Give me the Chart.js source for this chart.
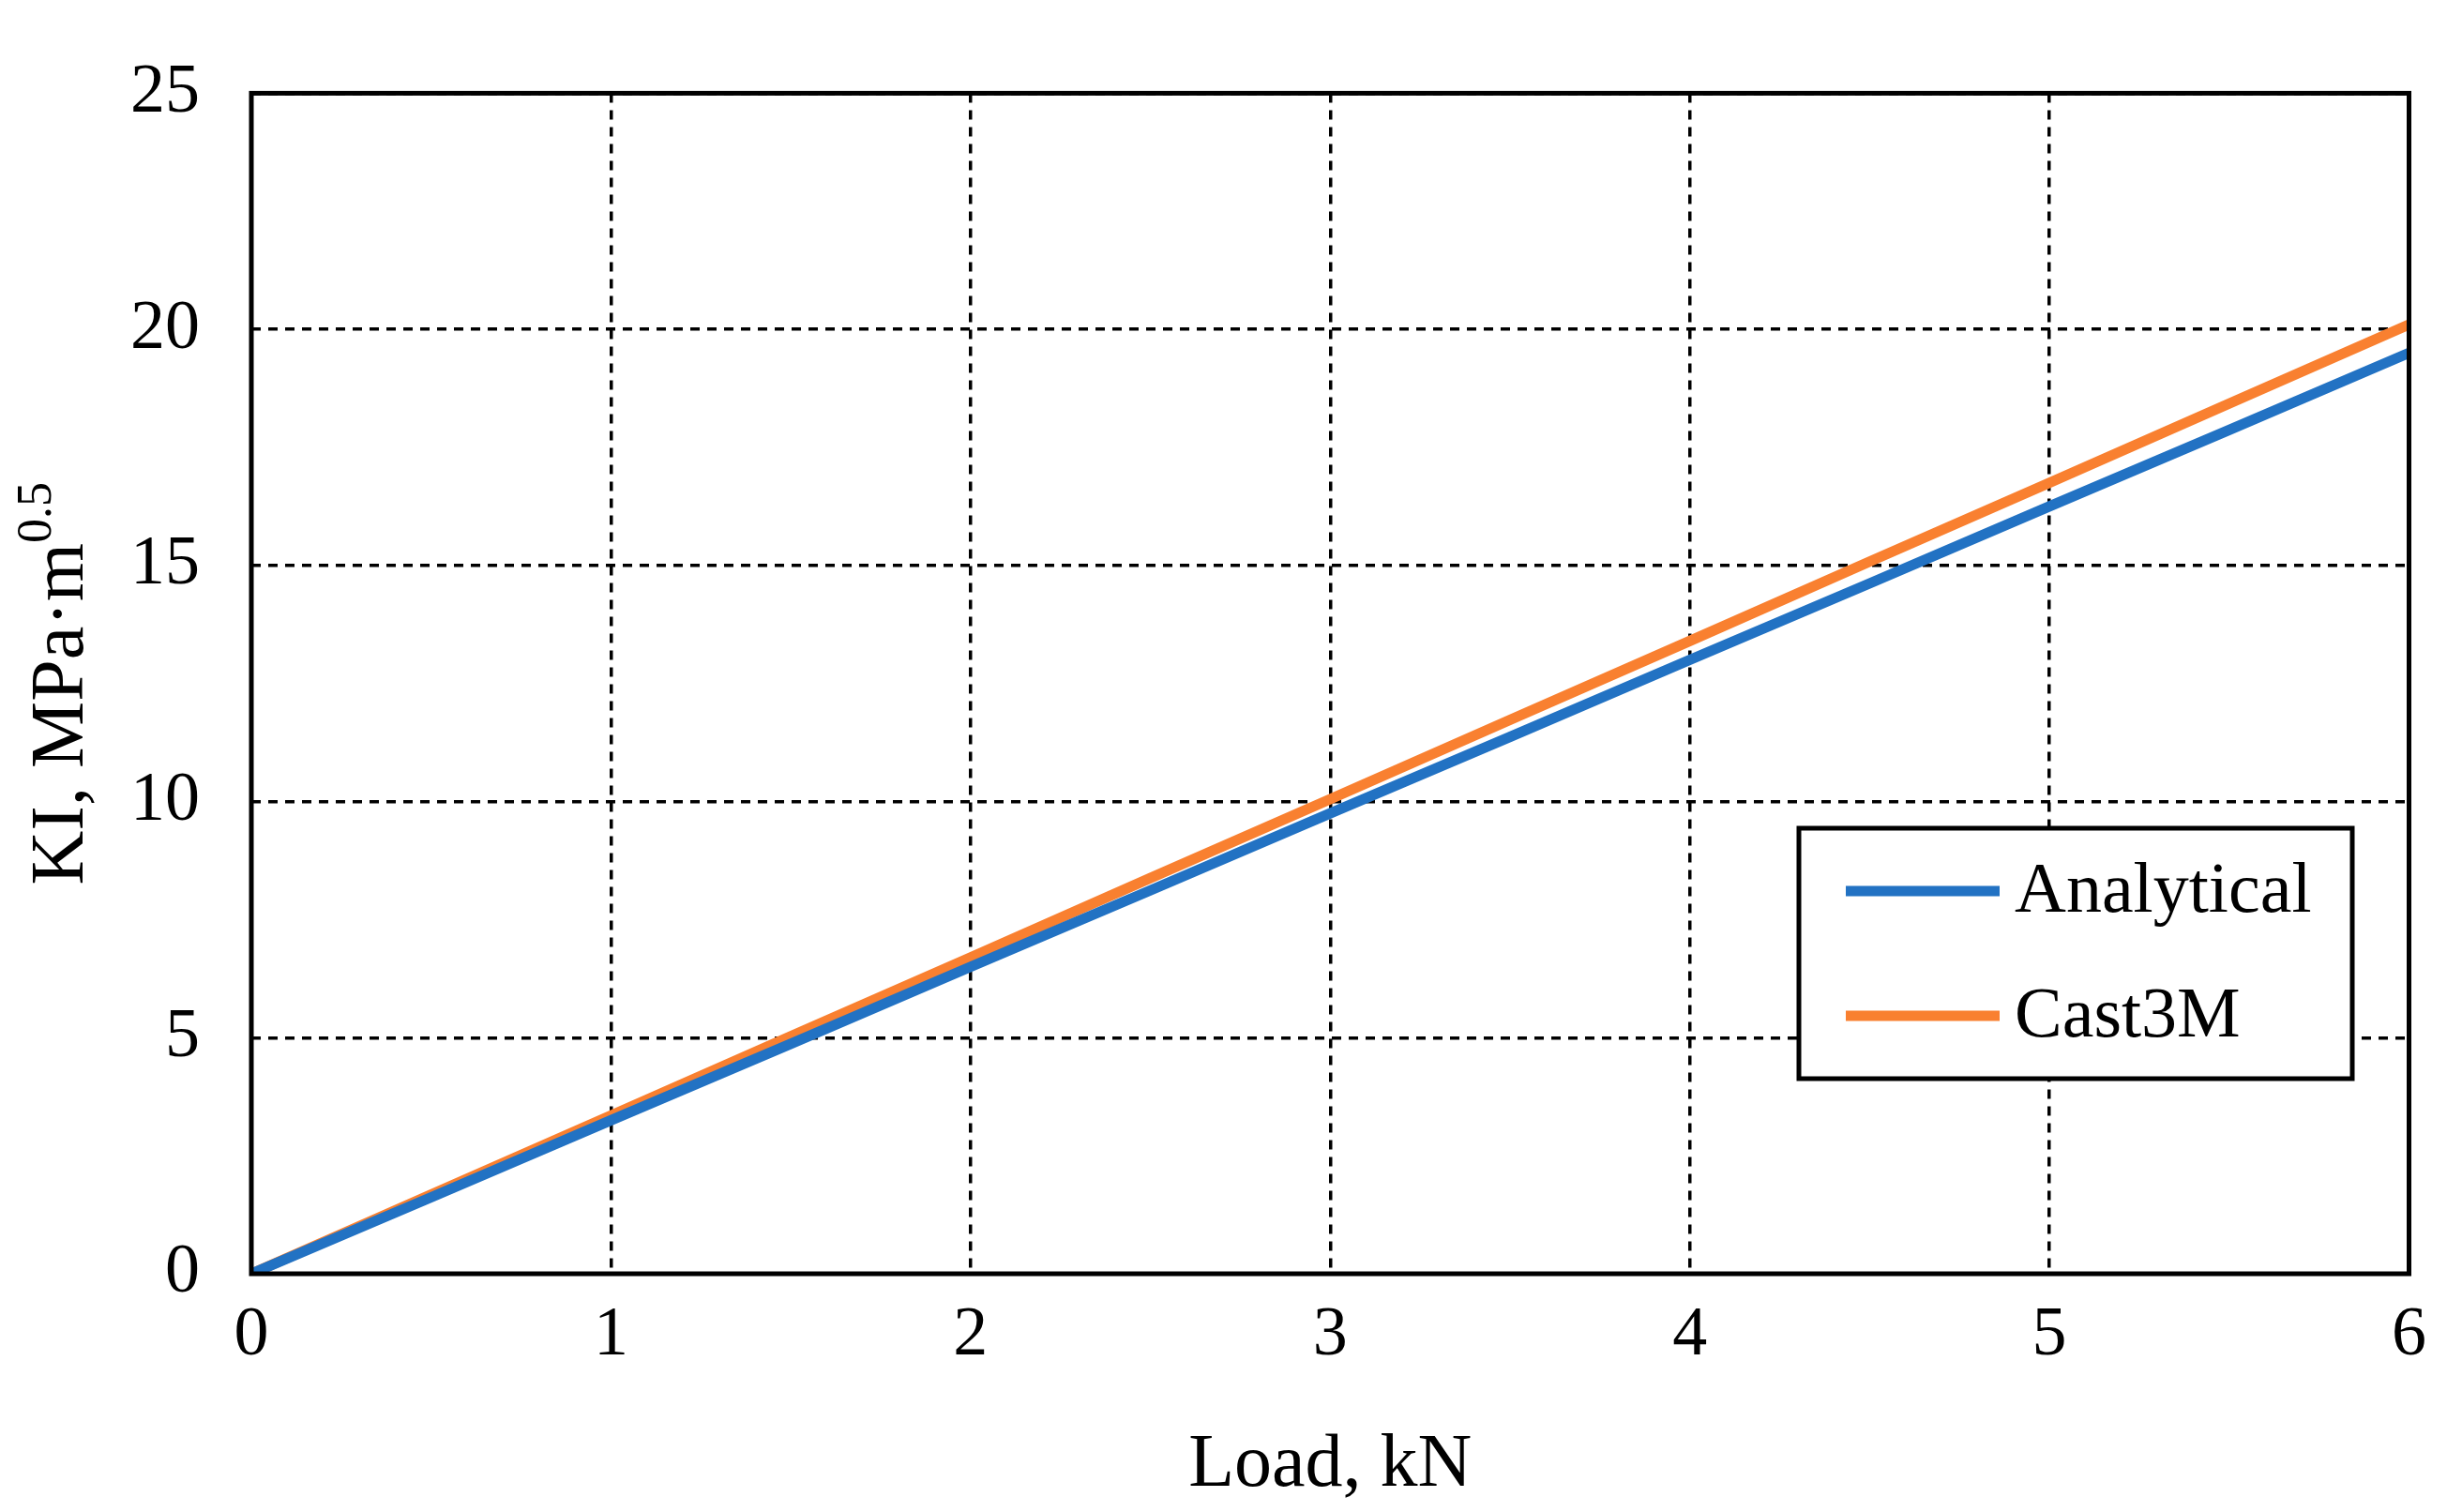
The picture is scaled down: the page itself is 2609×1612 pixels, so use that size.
<!DOCTYPE html>
<html>
<head>
<meta charset="utf-8">
<script src="https://cdn.jsdelivr.net/npm/chart.js@4/dist/chart.umd.min.js"></script>
<style>
  html, body { margin: 0; padding: 0; background: #fff; }
</style>
</head>
<body>
<canvas id="myChart" width="2609" height="1612"></canvas>
<script>
// data
var loads = [0, 0.5, 1, 1.5, 2, 2.5, 3, 3.5, 4, 4.5, 5, 5.5, 6];
var analytical = [0, 1.62, 3.25, 4.87, 6.5, 8.12, 9.75, 11.37, 13.0, 14.62, 16.25, 17.87, 19.5];
var cast3m = [0, 1.68, 3.35, 5.03, 6.7, 8.38, 10.05, 11.73, 13.4, 15.08, 16.75, 18.43, 20.1];
var seriesNames = ["Analytical", "Cast3M"];
var seriesColors = ["#2272C3", "#F98030"];

var FONT = "'Liberation Serif', 'Times New Roman', serif";

function toPoints(xs, ys) {
    var out = [];
    for (var i = 0; i < xs.length; i++) out.push({x: xs[i], y: ys[i]});
    return out;
}

var extras = {
    id: 'extras',
    afterDraw: function (chart) {
        var ctx = chart.ctx, a = chart.chartArea;
        ctx.save();
        // frame
        ctx.strokeStyle = '#000';
        ctx.lineWidth = 5;
        ctx.strokeRect(a.left, a.top, a.right - a.left, a.bottom - a.top);
        // x title
        ctx.fillStyle = '#000';
        ctx.font = '80px ' + FONT;
        ctx.textAlign = 'center';
        ctx.textBaseline = 'middle';
        ctx.fillText('Load, kN', (a.left + a.right) / 2, 1563);
        // y title with superscript
        ctx.translate(62, (a.top + a.bottom) / 2);
        ctx.rotate(-Math.PI / 2);
        var main = 'KI, MPa\u00B7m';
        ctx.font = '80px ' + FONT;
        var w1 = ctx.measureText(main).width;
        ctx.font = '52px ' + FONT;
        var w2 = ctx.measureText('0.5').width;
        var start = -(w1 + w2) / 2;
        ctx.textAlign = 'left';
        ctx.textBaseline = 'alphabetic';
        ctx.font = '80px ' + FONT;
        ctx.fillText(main, start, 26);
        ctx.font = '52px ' + FONT;
        ctx.fillText('0.5', start + w1, -8);
        ctx.restore();
        // legend
        ctx.save();
        ctx.fillStyle = '#fff';
        ctx.fillRect(1918, 883, 590, 267);
        ctx.strokeStyle = '#000';
        ctx.lineWidth = 5;
        ctx.strokeRect(1918, 883, 590, 267);
        var ys = [950, 1083];
        for (var i = 0; i < seriesNames.length; i++) {
            ctx.strokeStyle = seriesColors[i];
            ctx.lineWidth = 11;
            ctx.beginPath();
            ctx.moveTo(1968, ys[i]);
            ctx.lineTo(2132, ys[i]);
            ctx.stroke();
            ctx.fillStyle = '#000';
            ctx.font = '76px ' + FONT;
            ctx.textBaseline = 'middle';
            ctx.fillText(seriesNames[i], 2148, ys[i] + 2);
        }
        ctx.restore();
    }
};

var ctx = document.getElementById("myChart").getContext('2d');
var chart = new Chart(ctx, {
    type: 'line',
    data: {
        datasets: [
            {label: seriesNames[0], data: toPoints(loads, analytical), borderColor: seriesColors[0], borderWidth: 11, pointRadius: 0, fill: false},
            {label: seriesNames[1], data: toPoints(loads, cast3m), borderColor: seriesColors[1], borderWidth: 11, pointRadius: 0, fill: false}
        ]
    },
    options: {
        responsive: false,
        animation: false,
        layout: {padding: {top: 12, right: 26, left: 0, bottom: 0}},
        plugins: {legend: {display: false}, tooltip: {enabled: false}},
        scales: {
            x: {
                type: 'linear', min: 0, max: 6,
                ticks: {stepSize: 1, color: '#000', font: {family: FONT, size: 74}, padding: 22, maxRotation: 0},
                grid: {color: '#000', lineWidth: 3.5, drawTicks: false},
                border: {dash: [10, 8], display: false},
                afterFit: function (s) { s.height = 254; }
            },
            y: {
                min: 0, max: 25,
                ticks: {stepSize: 5, color: '#000', font: {family: FONT, size: 74}, padding: 55},
                grid: {color: '#000', lineWidth: 3.5, drawTicks: false},
                border: {dash: [10, 8], display: false},
                afterFit: function (s) { s.width = 268; }
            }
        }
    },
    plugins: [extras]
});
</script>
</body>
</html>
